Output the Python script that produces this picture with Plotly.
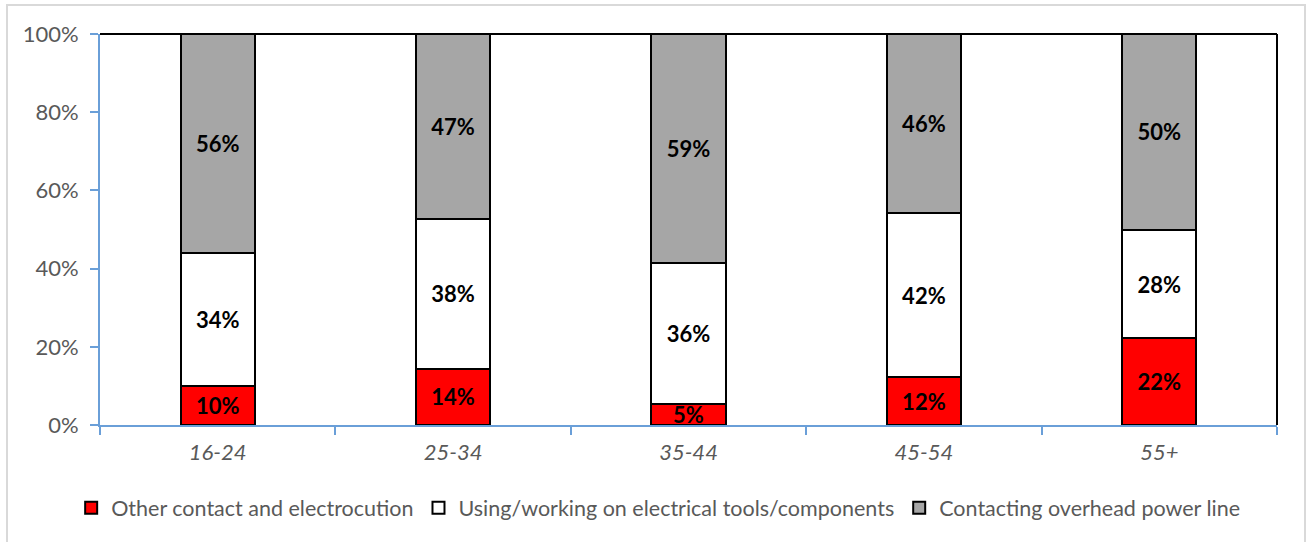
import plotly.graph_objects as go

categories = ["16-24", "25-34", "35-44", "45-54", "55+"]
other_contact = [10.1, 14.4, 5.3, 12.2, 22.2]
using_tools = [33.9, 38.4, 36.1, 41.9, 27.7]
overhead_line = [56.0, 47.2, 58.6, 45.9, 50.1]
y_ticks = [0, 20, 40, 60, 80, 100]
y_tick_labels = ["0%", "20%", "40%", "60%", "80%", "100%"]

series = [
    ("Other contact and electrocution", other_contact, "#FF0000"),
    ("Using/working on electrical tools/components", using_tools, "#FFFFFF"),
    ("Contacting overhead power line", overhead_line, "#A6A6A6"),
]

FONT = "Lato, Calibri, sans-serif"
AXIS_BLUE = "#6A9FD8"

fig = go.Figure()
for name, vals, color in series:
    fig.add_trace(go.Bar(
        name=name, x=categories, y=vals,
        marker=dict(color=color, line=dict(color="black", width=2)),
        texttemplate="%{y:.0f}%", textposition="inside", insidetextanchor="middle",
        constraintext="none",
        textfont=dict(family=FONT, size=22, color="black", weight="bold"),
        hoverinfo="skip",
    ))

fig.update_layout(
    barmode="stack", bargap=0.685,
    width=1306, height=542,
    margin=dict(l=100, r=29, t=34, b=117),
    paper_bgcolor="white", plot_bgcolor="white",
    font=dict(family=FONT, size=22, color="#595959"),
    showlegend=True,
    legend=dict(orientation="h", x=-0.0245, xanchor="left", y=-0.212, yanchor="middle",
                font=dict(family=FONT, size=21.5, color="#595959"),
                itemwidth=30, traceorder="normal", bgcolor="rgba(0,0,0,0)"),
    xaxis=dict(type="category", showline=True, linecolor=AXIS_BLUE, linewidth=2,
               ticks="outside", tickson="boundaries", ticklen=8, tickcolor=AXIS_BLUE, tickwidth=1.5,
               ticklabelstandoff=7,
               tickfont=dict(family=FONT, size=22, color="#595959", style="italic"),
               showgrid=False, zeroline=False),
    yaxis=dict(range=[0, 100], tickvals=y_ticks, ticktext=y_tick_labels, showline=True,
               linecolor=AXIS_BLUE, linewidth=2, ticks="outside", ticklen=8,
               tickcolor=AXIS_BLUE, tickwidth=1.5, showgrid=False, zeroline=False,
               ticklabelstandoff=7,
               tickfont=dict(family=FONT, size=22, color="#595959")),
    shapes=[
        dict(type="line", xref="paper", yref="paper", x0=0, x1=1, y0=1, y1=1,
             line=dict(color="black", width=2), layer="above"),
        dict(type="line", xref="paper", yref="paper", x0=1, x1=1, y0=0, y1=1,
             line=dict(color="black", width=2), layer="above"),
        dict(type="rect", xref="paper", yref="paper", x0=-0.079, x1=1.0238, y0=-0.4, y1=1.074,
             line=dict(color="#D9D9D9", width=2), layer="below"),
    ],
)

fig.write_html("out.html")
